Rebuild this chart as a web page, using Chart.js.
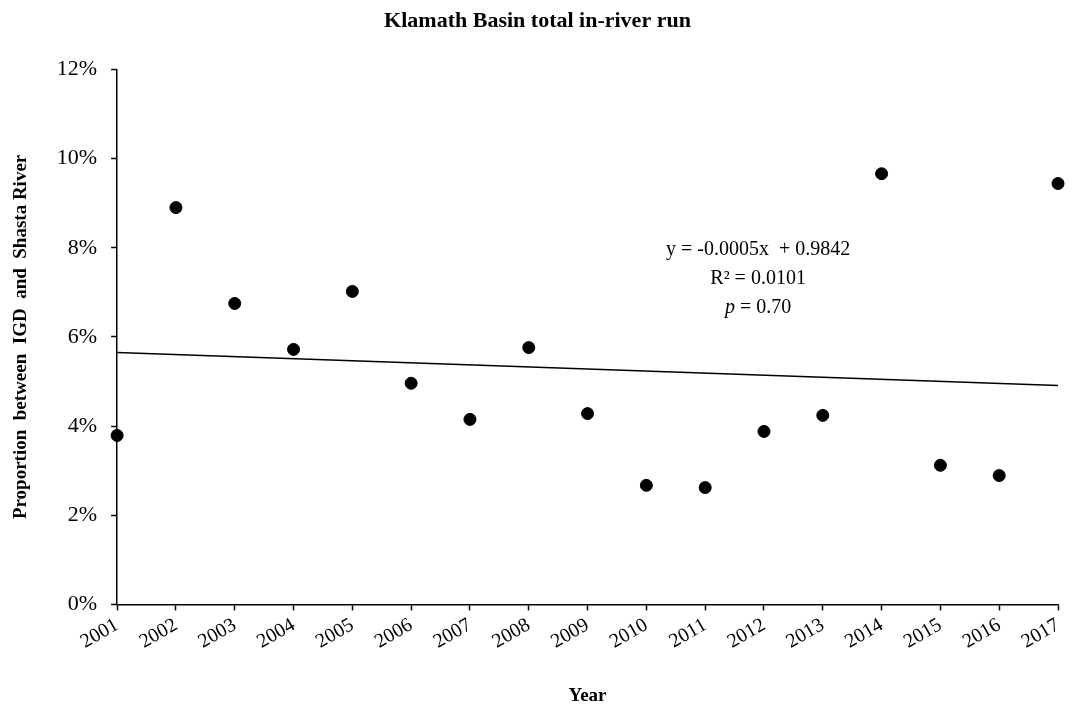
<!DOCTYPE html>
<html><head><meta charset="utf-8">
<script src="https://cdn.jsdelivr.net/npm/chart.js@4"></script>
<style>body{margin:0;background:#fff}#w{width:1073px;height:713px}</style>
</head><body><div id="w"><canvas id="c"></canvas></div>
<script>
const years = [2001,2002,2003,2004,2005,2006,2007,2008,2009,2010,2011,2012,2013,2014,2015,2016,2017];
const proportion = [3.79,8.90,6.75,5.72,7.02,4.96,4.15,5.76,4.28,2.67,2.62,3.88,4.24,9.66,3.12,2.89,9.44];
const trendYears = [2001,2017];
const trendValues = [5.65,4.91];
const font = 'Liberation Serif';

const notes = {
  id: 'notes',
  afterDraw(chart) {
    const ctx = chart.ctx, x = chart.scales.x, y = chart.scales.y;
    const cx = x.getPixelForValue(2011.9);
    ctx.save();
    ctx.fillStyle = '#000';
    ctx.textAlign = 'center';
    ctx.textBaseline = 'middle';
    ctx.font = '20px ' + font;
    ctx.fillText('y = -0.0005x  + 0.9842', cx, y.getPixelForValue(7.95));
    ctx.fillText('R\u00B2 = 0.0101', cx, y.getPixelForValue(7.3));
    ctx.font = 'italic 20px ' + font;
    const w1 = ctx.measureText('p').width;
    ctx.font = '20px ' + font;
    const w2 = ctx.measureText(' = 0.70').width;
    const sx = cx - (w1 + w2) / 2, py = y.getPixelForValue(6.65);
    ctx.textAlign = 'left';
    ctx.font = 'italic 20px ' + font;
    ctx.fillText('p', sx, py);
    ctx.font = '20px ' + font;
    ctx.fillText(' = 0.70', sx + w1, py);
    ctx.restore();
  }
};

const gridOpts = {display: true, drawOnChartArea: false, drawTicks: true, tickLength: 6, tickColor: '#000', tickWidth: 1.5};

new Chart(document.getElementById('c'), {
  type: 'scatter',
  data: {
    datasets: [
      {
        data: years.map((yr, i) => ({x: yr, y: proportion[i]})),
        backgroundColor: '#000', borderColor: '#000', pointRadius: 6, clip: false
      },
      {
        type: 'line',
        data: trendYears.map((yr, i) => ({x: yr, y: trendValues[i]})),
        borderColor: '#000', borderWidth: 1.5, pointRadius: 0, fill: false
      }
    ]
  },
  options: {
    responsive: true, maintainAspectRatio: false, animation: false,
    layout: {padding: {left: 6, right: 4, top: 4, bottom: 4}},
    plugins: {
      legend: {display: false}, tooltip: {enabled: false},
      title: {display: true, text: 'Klamath Basin total in-river run', color: '#000',
        font: {family: font, size: 22, weight: 'bold'}, padding: {top: 4, bottom: 35}}
    },
    scales: {
      x: {
        type: 'linear', min: 2001, max: 2017,
        grid: gridOpts,
        border: {color: '#000', width: 1.5},
        ticks: {stepSize: 1, color: '#000', font: {family: font, size: 20},
          maxRotation: 30, minRotation: 30, callback: v => String(v), autoSkip: false},
        title: {display: true, text: 'Year', color: '#000', font: {family: font, size: 19, weight: 'bold'}, padding: {top: 27, bottom: 2}}
      },
      y: {
        min: 0, max: 12,
        grid: gridOpts,
        border: {color: '#000', width: 1.5},
        ticks: {stepSize: 2, color: '#000', padding: 14, font: {family: font, size: 22}, callback: v => v + '%'},
        title: {display: true, text: 'Proportion  between  IGD  and  Shasta River', color: '#000',
          font: {family: font, size: 19, weight: 'bold'}, padding: {top: 4, bottom: 10}}
      }
    }
  },
  plugins: [notes]
});
</script></body></html>
